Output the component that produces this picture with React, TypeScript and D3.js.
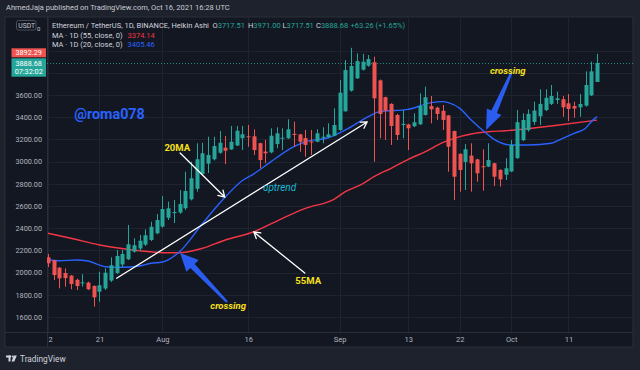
import React, { useEffect, useRef } from 'react';
import * as d3 from 'd3';

// Heikin Ashi daily candles, ETH/USDT, from 12 Jul 2021 (one value per day)
const firstDay = Date.UTC(2021, 6, 12);
const DAY_MS = 86400000;

const openPrices = [
  2138, 2111, 2044, 1996, 1973, 1935, 1907, 1910, 1880, 1828, 1857, 1928, 1997, 2073, 2120, 2188, 2217, 2252, 2294, 2354,
  2414, 2494, 2536, 2541, 2580, 2660, 2755, 2888, 2982, 3021, 3080, 3125, 3110, 3145, 3211, 3228, 3228, 3166, 3090, 3083,
  3158, 3206, 3210, 3250, 3245, 3212, 3181, 3179, 3217, 3220, 3233, 3285, 3453, 3639, 3750, 3828, 3864, 3895, 3732, 3580,
  3520, 3420, 3330, 3335, 3318, 3336, 3420, 3500, 3486, 3458, 3416, 3275, 3070, 2997, 3054, 3020, 2958, 2955, 2985, 2925,
  2882, 2911, 3031, 3193, 3284, 3357, 3408, 3464, 3520, 3555, 3562, 3525, 3500, 3489, 3504, 3597, 3717.51,
];
const highPrices = [
  2168, 2115, 2050, 2038, 1978, 1945, 1985, 1918, 1885, 2008, 2038, 2138, 2204, 2204, 2429, 2309, 2339, 2390, 2458, 2528,
  2690, 2639, 2654, 2744, 2909, 2999, 3165, 3170, 3224, 3224, 3276, 3231, 3321, 3321, 3321, 3330, 3291, 3170, 3195, 3300,
  3309, 3300, 3381, 3360, 3250, 3285, 3285, 3291, 3309, 3345, 3480, 3735, 3915, 4025, 3975, 3970, 3960, 3945, 3740, 3585,
  3525, 3430, 3465, 3340, 3435, 3615, 3675, 3591, 3495, 3510, 3420, 3280, 3075, 3159, 3165, 3025, 3111, 3165, 2990, 2930,
  3030, 3195, 3465, 3435, 3470, 3540, 3651, 3651, 3690, 3630, 3591, 3609, 3540, 3609, 3813, 3900, 3971,
];
const lowPrices = [
  2050, 1933, 1858, 1873, 1850, 1843, 1873, 1843, 1693, 1738, 1843, 1915, 1987, 2050, 2113, 2180, 2195, 2240, 2284, 2345,
  2405, 2474, 2447, 2530, 2564, 2650, 2729, 2880, 2897, 3010, 3070, 2978, 3105, 3140, 3104, 3134, 3060, 2940, 2985, 3075,
  3120, 3104, 3205, 3134, 3089, 3044, 3060, 3175, 3165, 3215, 3228, 3275, 3450, 3630, 3745, 3820, 3855, 2999, 3210, 3195,
  3150, 3195, 3210, 3104, 3310, 3330, 3415, 3345, 3375, 3285, 2909, 2654, 2729, 2744, 2729, 2819, 2738, 2950, 2780, 2774,
  2834, 2905, 3025, 3185, 3270, 3330, 3330, 3455, 3510, 3520, 3405, 3366, 3396, 3405, 3495, 3590, 3717.51,
];
const closePrices = [
  2084, 1978, 1948, 1950, 1897, 1879, 1912, 1850, 1777, 1886, 1999, 2066, 2150, 2168, 2255, 2246, 2287, 2336, 2413, 2474,
  2573, 2579, 2546, 2618, 2735, 2850, 3021, 3075, 3060, 3140, 3170, 3098, 3179, 3278, 3246, 3225, 3104, 3014, 3075, 3233,
  3255, 3215, 3291, 3240, 3179, 3150, 3177, 3255, 3224, 3246, 3330, 3621, 3825, 3861, 3905, 3900, 3924, 3570, 3429, 3459,
  3321, 3240, 3340, 3300, 3354, 3501, 3580, 3471, 3429, 3375, 3134, 2864, 2924, 3111, 2985, 2895, 2952, 3014, 2864, 2840,
  2940, 3150, 3355, 3375, 3430, 3460, 3520, 3575, 3591, 3570, 3489, 3474, 3478, 3519, 3690, 3813, 3888.68,
];

// moving averages (day offset from 12 Jul, value)
const ma55Days = [0, 4, 9, 12, 16, 20, 23, 27, 31, 36, 41, 45, 50, 52, 55, 57, 60, 63, 66, 69, 71, 74, 77, 80, 83, 88, 96];
const ma55Values = [2354, 2309, 2249, 2224, 2197, 2179, 2179, 2219, 2294, 2368, 2489, 2579, 2660, 2729, 2800, 2864, 2940, 3021, 3089, 3170, 3210, 3249, 3269, 3278, 3291, 3321, 3374.14];
const ma20Days = [0, 2, 5, 7, 9, 10, 13, 16, 18, 20, 23, 27, 30, 34, 36, 39, 43, 45, 49, 52, 56, 58, 63, 67, 69, 70, 72, 74, 77, 78, 81, 84, 88, 90, 92, 94, 95, 96];
const ma20Values = [2113, 2107, 2113, 2104, 2068, 2053, 2048, 2060, 2084, 2095, 2188, 2440, 2624, 2830, 2890, 3000, 3134, 3179, 3215, 3285, 3405, 3450, 3471, 3531, 3540, 3531, 3480, 3375, 3240, 3200, 3150, 3150, 3165, 3210, 3255, 3300, 3360, 3405.46];

const priceTicks = [1600, 1800, 2000, 2200, 2400, 2600, 2800, 3000, 3200, 3400, 3600];
const gridPrices = [1600, 1800, 2000, 2200, 2400, 2600, 2800, 3000, 3200, 3400, 3600, 3800, 4000];
const timeTickDates = ['2021-07-12', '2021-07-21', '2021-08-01', '2021-08-16', '2021-09-01', '2021-09-13', '2021-09-22', '2021-10-01', '2021-10-11'];
const timeTickLabels = ['12', '21', 'Aug', '16', 'Sep', '13', '22', 'Oct', '11'];

const lastPrice = 3888.68;

const UP = '#26a69a';
const DOWN = '#ef5350';
const FONT = 'Roboto, sans-serif';

const App = () => {
  const svgRef = useRef<SVGSVGElement>(null);

  useEffect(() => {
    if (!svgRef.current) return;
    const svg = d3.select(svgRef.current);
    svg.selectAll('*').remove();

    // panel geometry
    const left = 47, right = 633, top = 17, bottom = 332, panelBottom = 347, panelLeft = 5;

    const x = d3.scaleUtc()
      .domain([new Date(firstDay), new Date(firstDay + 96 * DAY_MS)])
      .range([48, 597]);
    const y = d3.scaleLinear().domain([1600, 3600]).range([317, 95]);
    const dayX = (d: number) => x(new Date(firstDay + d * DAY_MS));

    // backgrounds
    svg.append('rect').attr('width', 640).attr('height', 370).attr('fill', '#1e222d');
    svg.append('rect')
      .attr('x', panelLeft).attr('y', top)
      .attr('width', right - panelLeft).attr('height', panelBottom - top)
      .attr('fill', '#131722').attr('stroke', '#2a2e39');

    svg.append('defs').append('clipPath').attr('id', 'plot')
      .append('rect').attr('x', left).attr('y', top).attr('width', right - left).attr('height', bottom - top);

    // grid
    const grid = svg.append('g').attr('clip-path', 'url(#plot)');
    grid.selectAll('.hg').data(gridPrices).enter().append('line')
      .attr('x1', left).attr('x2', right)
      .attr('y1', d => Math.round(y(d)) + 0.5).attr('y2', d => Math.round(y(d)) + 0.5)
      .attr('stroke', '#1f2330');
    grid.selectAll('.vg').data(timeTickDates).enter().append('line')
      .attr('x1', d => Math.round(x(new Date(d + 'T00:00:00Z'))) + 0.5)
      .attr('x2', d => Math.round(x(new Date(d + 'T00:00:00Z'))) + 0.5)
      .attr('y1', top).attr('y2', bottom)
      .attr('stroke', '#1f2330');

    // axis separators
    svg.append('line').attr('x1', left + 0.5).attr('x2', left + 0.5).attr('y1', top).attr('y2', panelBottom).attr('stroke', '#2a2e39');
    svg.append('line').attr('x1', panelLeft).attr('x2', right).attr('y1', bottom + 0.5).attr('y2', bottom + 0.5).attr('stroke', '#2a2e39');

    // price axis
    const yAxis = svg.append('g')
      .attr('transform', `translate(${left},0)`)
      .call(d3.axisLeft(y).tickValues(priceTicks).tickFormat(d3.format('.2f')).tickSize(0).tickPadding(5));
    yAxis.select('.domain').remove();
    yAxis.selectAll('text').attr('fill', '#b2b5be').style('font-size', '7.3px').style('font-family', FONT);

    // time axis
    const xAxis = svg.append('g')
      .attr('transform', `translate(0,${bottom})`)
      .attr('clip-path', 'url(#xclip)');
    svg.select('defs').append('clipPath').attr('id', 'xclip')
      .append('rect').attr('x', left + 1).attr('y', 0).attr('width', right - left).attr('height', 20);
    xAxis.call(
      d3.axisBottom(x)
        .tickValues(timeTickDates.map(d => new Date(d + 'T00:00:00Z')))
        .tickFormat((_d, i) => timeTickLabels[i])
        .tickSize(0).tickPadding(5)
    );
    xAxis.select('.domain').remove();
    xAxis.selectAll('text').attr('fill', '#b2b5be').style('font-size', '7.5px').style('font-family', FONT);

    // current price dotted line
    svg.append('line')
      .attr('x1', left).attr('x2', right)
      .attr('y1', Math.round(y(lastPrice)) + 0.5).attr('y2', Math.round(y(lastPrice)) + 0.5)
      .attr('stroke', UP).attr('stroke-dasharray', '1,2').attr('opacity', 0.8);

    const plot = svg.append('g').attr('clip-path', 'url(#plot)');

    // moving averages
    const line = d3.line<[number, number]>()
      .x(d => dayX(d[0]))
      .y(d => y(d[1]))
      .curve(d3.curveMonotoneX);
    plot.append('path')
      .datum(ma55Days.map((d, i) => [d, ma55Values[i]] as [number, number]))
      .attr('d', line).attr('fill', 'none').attr('stroke', '#f23645').attr('stroke-width', 1.4);
    plot.append('path')
      .datum(ma20Days.map((d, i) => [d, ma20Values[i]] as [number, number]))
      .attr('d', line).attr('fill', 'none').attr('stroke', '#2962ff').attr('stroke-width', 1.4);

    // candles
    const candles = openPrices.map((o, i) => ({
      date: new Date(firstDay + i * DAY_MS), o, h: highPrices[i], l: lowPrices[i], c: closePrices[i],
    }));
    const cg = plot.selectAll('.candle').data(candles).enter().append('g');
    cg.append('line')
      .attr('x1', d => Math.round(x(d.date)) + 0.5).attr('x2', d => Math.round(x(d.date)) + 0.5)
      .attr('y1', d => y(d.h)).attr('y2', d => y(d.l))
      .attr('stroke', d => (d.c >= d.o ? UP : DOWN)).attr('stroke-width', 1);
    cg.append('rect')
      .attr('x', d => Math.round(x(d.date)) - 1.5)
      .attr('width', 4)
      .attr('y', d => y(Math.max(d.o, d.c)))
      .attr('height', d => Math.max(1, Math.abs(y(d.o) - y(d.c))))
      .attr('fill', d => (d.c >= d.o ? UP : DOWN));

    // annotations (positions in day / price space)
    const P = (d: number, p: number): [number, number] => [dayX(d), y(p)];
    const chevron = (from: [number, number], tip: [number, number], size: number) => {
      const a = Math.atan2(tip[1] - from[1], tip[0] - from[0]);
      const p1 = [tip[0] - size * Math.cos(a - 0.55), tip[1] - size * Math.sin(a - 0.55)];
      const p2 = [tip[0] - size * Math.cos(a + 0.55), tip[1] - size * Math.sin(a + 0.55)];
      return `M${from[0]},${from[1]}L${tip[0]},${tip[1]}M${p1[0]},${p1[1]}L${tip[0]},${tip[1]}L${p2[0]},${p2[1]}`;
    };
    const whiteArrow = (from: [number, number], tip: [number, number], size: number) =>
      svg.append('path').attr('d', chevron(from, tip, size))
        .attr('fill', 'none').attr('stroke', '#ffffff').attr('stroke-width', 1.3).attr('stroke-linecap', 'round');

    whiteArrow(P(12, 1949), P(55.8, 3357), 7);
    whiteArrow(P(23.1, 3077), P(30.9, 2681), 7);
    whiteArrow(P(44.9, 1996), P(36.0, 2366), 7);

    const blueArrow = (tail: [number, number], tip: [number, number], headLen: number, headW: number) => {
      const dx = tip[0] - tail[0], dy = tip[1] - tail[1];
      const len = Math.hypot(dx, dy);
      const ux = dx / len, uy = dy / len, nx = -uy, ny = ux;
      const bx = tip[0] - ux * headLen, by = tip[1] - uy * headLen;
      const w0 = 1.2, w1 = 3;
      const pts = [
        [tail[0] + nx * w0, tail[1] + ny * w0],
        [bx + nx * w1, by + ny * w1],
        [bx + nx * headW / 2, by + ny * headW / 2],
        tip,
        [bx - nx * headW / 2, by - ny * headW / 2],
        [bx - nx * w1, by - ny * w1],
        [tail[0] - nx * w0, tail[1] - ny * w0],
      ];
      svg.append('path').attr('d', 'M' + pts.map(p => p.join(',')).join('L') + 'Z')
        .attr('fill', '#2a5cf0');
    };
    blueArrow(P(31.3, 1735), P(23.1, 2177), 18, 17);
    blueArrow(P(81.0, 3798), P(76.6, 3285), 20, 16);

    const label = (pos: [number, number], text: string, color: string, size: number, style: string, weight: string) =>
      svg.append('text').attr('x', pos[0]).attr('y', pos[1]).attr('dy', '0.35em')
        .attr('text-anchor', 'middle').attr('fill', color)
        .style('font-family', FONT).style('font-size', size + 'px')
        .style('font-style', style).style('font-weight', weight)
        .text(text);

    label(P(22.6, 3123), '20MA', '#f7e11b', 9.5, 'normal', 'bold');
    label(P(45.5, 1924), '55MA', '#f7e11b', 9.5, 'normal', 'bold');
    label(P(31.5, 1699), 'crossing', '#f7e11b', 9.5, 'italic', 'bold');
    label(P(80.4, 3816), 'crossing', '#f7e11b', 9.5, 'italic', 'bold');
    label(P(40.5, 2771), 'uptrend', '#1ab8d2', 10, 'italic', 'normal');
    label(P(10.75, 3429), '@roma078', '#2962ff', 14.3, 'normal', 'bold');

    // price labels on the axis
    svg.append('rect').attr('x', 11.5).attr('y', 48.3).attr('width', 34.5).attr('height', 9).attr('fill', DOWN);
    svg.append('text').attr('x', 28.7).attr('y', 55.4).attr('text-anchor', 'middle').attr('fill', '#fff')
      .style('font-family', FONT).style('font-size', '7.3px').text('3892.29');
    svg.append('rect').attr('x', 11.5).attr('y', 58.3).attr('width', 34.5).attr('height', 18.4).attr('fill', UP);
    svg.append('text').attr('x', 28.7).attr('y', 66).attr('text-anchor', 'middle').attr('fill', '#fff')
      .style('font-family', FONT).style('font-size', '7.3px').text(lastPrice.toFixed(2));
    svg.append('text').attr('x', 28.7).attr('y', 74).attr('text-anchor', 'middle').attr('fill', '#fff')
      .style('font-family', FONT).style('font-size', '7.3px').text('07:32:02');

    // header and legend
    const txt = (xx: number, yy: number, s: string, color: string, size = 7.5) =>
      svg.append('text').attr('x', xx).attr('y', yy).attr('fill', color)
        .style('font-family', FONT).style('font-size', size + 'px').text(s);

    txt(6, 10, 'AhmedJaja published on TradingView.com, Oct 16, 2021 16:28 UTC', '#c9ccd3');

    svg.append('rect').attr('x', 16.5).attr('y', 20.5).attr('width', 19.5).attr('height', 9.5).attr('rx', 2)
      .attr('fill', 'none').attr('stroke', '#4a4e5a');
    txt(18.3, 28, 'USDT', '#c9ccd3', 6.8);
    txt(37, 30.5, '0', '#c9ccd3', 6);

    txt(52, 28, 'Ethereum / TetherUS, 1D, BINANCE, Heikin Ashi', '#d1d4dc');
    const ohlc: [number, string, string][] = [
      [212.5, 'O', openPrices[96].toFixed(2)],
      [248, 'H', highPrices[96].toFixed(2)],
      [282.5, 'L', lowPrices[96].toFixed(2)],
      [316, 'C', closePrices[96].toFixed(2)],
    ];
    ohlc.forEach(([xx, k, v]) => {
      const t = txt(xx, 28, k, '#d1d4dc');
      t.append('tspan').attr('fill', UP).text(v);
    });
    txt(350.5, 28, '+63.26 (+1.65%)', UP);

    txt(52, 37.8, 'MA · 1D (55, close, 0)', '#d1d4dc');
    txt(127.5, 37.8, '3374.14', '#f23645');
    txt(52, 47, 'MA · 1D (20, close, 0)', '#d1d4dc');
    txt(127.5, 47, '3405.46', '#2962ff');

    // footer logo
    const logo = svg.append('g').attr('fill', '#d1d4dc');
    logo.append('rect').attr('x', 6).attr('y', 355.5).attr('width', 5).attr('height', 2);
    logo.append('rect').attr('x', 8.5).attr('y', 355.5).attr('width', 2).attr('height', 6);
    logo.append('circle').attr('cx', 12.6).attr('cy', 356.5).attr('r', 1);
    logo.append('path').attr('d', 'M13.8,355.5 L16.8,355.5 L14.3,361.5 L11.6,361.5 Z');
    txt(20, 362, 'TradingView', '#d1d4dc', 8.3);
  }, []);

  return (
    <svg ref={svgRef} width={640} height={370}
      style={{ position: 'absolute', left: 0, top: 0, display: 'block' }} />
  );
};

export default App;
